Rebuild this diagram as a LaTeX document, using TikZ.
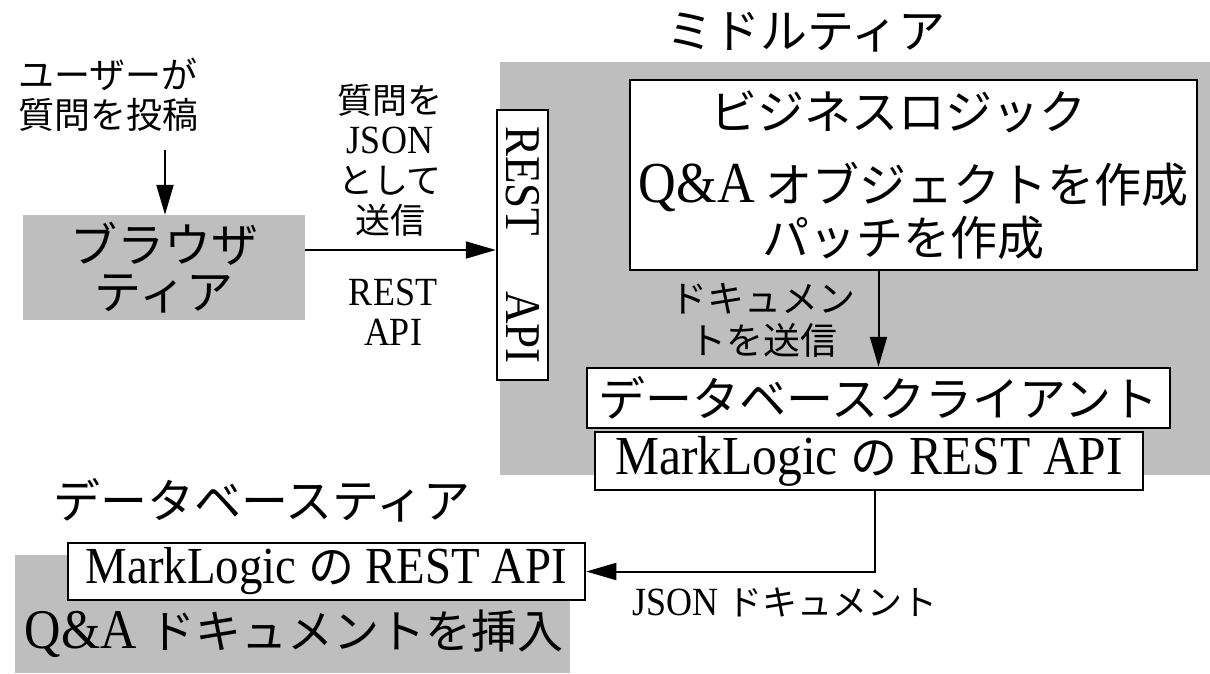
\documentclass[tikz,border=0pt]{standalone}
\usepackage{fontspec}
\usepackage{graphicx}
\setmainfont{Liberation Serif}[FakeStretch=0.9]
\newfontfamily\jpfont{Noto Sans CJK JP}
\usetikzlibrary{arrows.meta}
\definecolor{tiergray}{RGB}{190,190,190}
\newcommand\sz[2]{\fontsize{#1}{#2}\selectfont}

\begin{document}
\begin{tikzpicture}[x=1pt,y=-1pt,
  tier/.style={fill=tiergray, inner sep=0pt},
  box/.style={draw, fill=white, line width=2.5pt, inner sep=0pt},
  arr/.style={line width=2pt, -{Triangle[length=30pt,width=17pt]}},
  jpbig/.style={font=\jpfont\sz{47}{47}},
  lbl/.style={font=\sz{40}{40}, align=center}]
  \useasboundingbox (0,0) rectangle (1210,673);

  % middle tier
  \node[tier, minimum width=710pt, minimum height=413pt] (midtier) at (855,268.5) {};
  \node[jpbig] (midtitle) at (806,32) {ミドルティア};
  \node[box, minimum width=567pt, minimum height=190pt, align=center, font=\jpfont\sz{47}{53}] (bizlogic) at (913.5,175)
    {\hspace*{-30pt}ビジネスロジック\\[20pt]{\rmfamily\sz{58}{53}Q\&A} オブジェクトを作成\\\hspace*{-20pt}パッチを作成};
  \node[box, jpbig, minimum width=583pt, minimum height=60pt] (dbclient) at (878.5,398) {データベースクライアント};
  \node[box, font=\sz{55}{55}, minimum width=548pt, minimum height=58pt] (mlmid) at (869,461) {MarkLogic {\jpfont\sz{47}{47}の} REST API};
  \node[box, font=\sz{50}{50}, minimum width=51pt, minimum height=270pt] (restapi) at (522.5,245) {\rotatebox{-90}{REST\hspace{1.1em}API}};
  \draw[arr] (bizlogic.south -| dbclient.north) -- (dbclient.north);
  \node[font=\jpfont\sz{37}{42}, align=center] (sendlbl) at (763,320) {ドキュメン\\トを送信};

  % browser tier
  \node[font=\jpfont\sz{36}{40}, align=center] (user) at (108,95) {ユーザーが\\質問を投稿};
  \node[tier, jpbig, align=center, minimum width=282pt, minimum height=105pt] (browser) at (164,267.5) {ブラウザ\\ティア};
  \coordinate (post) at (165,150);
  \draw[arr] (post) -- (post |- browser.north);
  \draw[arr] ([yshift=17.5pt]browser.east) -- ([yshift=17.5pt]browser.east -| restapi.west);
  \node[lbl] (jsonsend) at (390,160) {{\jpfont\sz{35}{40}質問を}\\JSON\\{\jpfont\sz{35}{40}として}\\{\jpfont\sz{35}{40}送信}};
  \node[lbl] (restlbl) at (393,312) {REST\\API};

  % database tier
  \node[jpbig] (dbtitle) at (262,500) {データベースティア};
  \node[tier, minimum width=555pt, minimum height=118pt] (dbtier) at (292.5,614) {};
  \node[font=\sz{56}{56}] (insert) at (294,634) {Q\&A {\jpfont\sz{46}{46}ドキュメントを挿入}};
  \node[box, font=\sz{52}{52}, minimum width=517pt, minimum height=57pt] (mldb) at (326.5,571.5) {MarkLogic {\jpfont\sz{46}{46}の} REST API};
  \draw[arr] ([xshift=6pt]mlmid.south) |- (mldb.east);
  \node[lbl] (jsondoc) at (785,602) {JSON {\jpfont\sz{35}{35}ドキュメント}};
\end{tikzpicture}
\end{document}
